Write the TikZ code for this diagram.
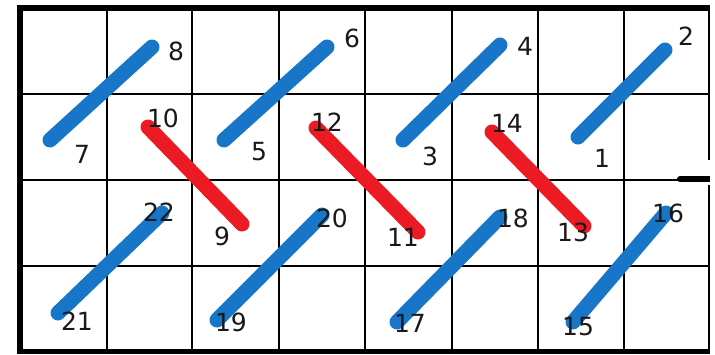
\documentclass[tikz,border=0pt]{standalone}
\usepackage{fontspec}
\setmainfont{DejaVu Sans}
\definecolor{strokeblue}{RGB}{24,118,200}
\definecolor{strokered}{RGB}{236,26,34}
\begin{document}
\begin{tikzpicture}[x=1pt,y=-1pt,
  gridline/.style={black,line width=1.5pt},
  bluestroke/.style={strokeblue,line width=15pt,line cap=round},
  redstroke/.style={strokered,line width=15pt,line cap=round},
  lbl/.style={inner sep=0pt,font=\fontsize{25}{30}\selectfont,text=black!90}]
\useasboundingbox (0,0) rectangle (715,354);
\fill[white] (0,0) rectangle (715,354);
% grid
\foreach \x in {107,192,279,365,452,538,624} \draw[gridline] (\x,8) -- (\x,351);
\foreach \y in {94,180} \draw[gridline] (20,\y) -- (709,\y);
\draw[gridline] (20,266) -- (709,266);
% right border with gap
\draw[gridline] (709,8) -- (709,160);
\draw[gridline] (709,185) -- (709,351);
% thick borders
\fill[black] (17,5) rectangle (23,354);
\fill[black] (17,5) rectangle (709.8,10.5);
\fill[black] (17,349) rectangle (709.8,354);
% bar at right
\draw[black,line width=6pt] (680,179) -- (710,179);
\fill[black] (680,179) circle (3pt);
% stroke end points
\coordinate (p1) at (578,137); \coordinate (p2) at (665,50);
\coordinate (p3) at (403,140); \coordinate (p4) at (500,45);
\coordinate (p5) at (224,140); \coordinate (p6) at (327,47);
\coordinate (p7) at (50,140);  \coordinate (p8) at (152,47);
\coordinate (p10) at (148,127); \coordinate (p9) at (242,224);
\coordinate (p12) at (316,128); \coordinate (p11) at (418,232);
\coordinate (p14) at (492,132); \coordinate (p13) at (584,226);
\coordinate (p21) at (58,313); \coordinate (p22) at (162,213);
\coordinate (p19) at (217,320); \coordinate (p20) at (322,215);
\coordinate (p17) at (397,322); \coordinate (p18) at (500,217);
\coordinate (p15) at (573,322); \coordinate (p16) at (666,213);
% strokes
\draw[bluestroke] (p7) -- (p8);
\draw[bluestroke] (p5) -- (p6);
\draw[bluestroke] (p3) -- (p4);
\draw[bluestroke] (p1) -- (p2);
\draw[redstroke] (p10) -- (p9);
\draw[redstroke] (p12) -- (p11);
\draw[redstroke] (p14) -- (p13);
\draw[bluestroke] (p21) -- (p22);
\draw[bluestroke] (p19) -- (p20);
\draw[bluestroke] (p17) -- (p18);
\draw[bluestroke] (p15) -- (p16);
% labels
\node[lbl] (l8) at (176,51) {8};
\node[lbl] (l7) at (82,154) {7};
\node[lbl] (l6) at (352,38) {6};
\node[lbl] (l5) at (259,152) {5};
\node[lbl] (l4) at (525,46) {4};
\node[lbl] (l3) at (430,156) {3};
\node[lbl] (l2) at (686,36) {2};
\node[lbl] (l1) at (602,158) {1};
\node[lbl] (l10) at (163,118) {10};
\node[lbl] (l9) at (222,236) {9};
\node[lbl] (l12) at (327,122) {12};
\node[lbl] (l11) at (403,237) {11};
\node[lbl] (l14) at (507,123) {14};
\node[lbl] (l13) at (573,232) {13};
\node[lbl] (l22) at (159,212) {22};
\node[lbl] (l21) at (77,321) {21};
\node[lbl] (l20) at (332,218) {20};
\node[lbl] (l19) at (231,322) {19};
\node[lbl] (l18) at (513,218) {18};
\node[lbl] (l17) at (410,323) {17};
\node[lbl] (l16) at (668,213) {16};
\node[lbl] (l15) at (578,327) {15};
\end{tikzpicture}
\end{document}
